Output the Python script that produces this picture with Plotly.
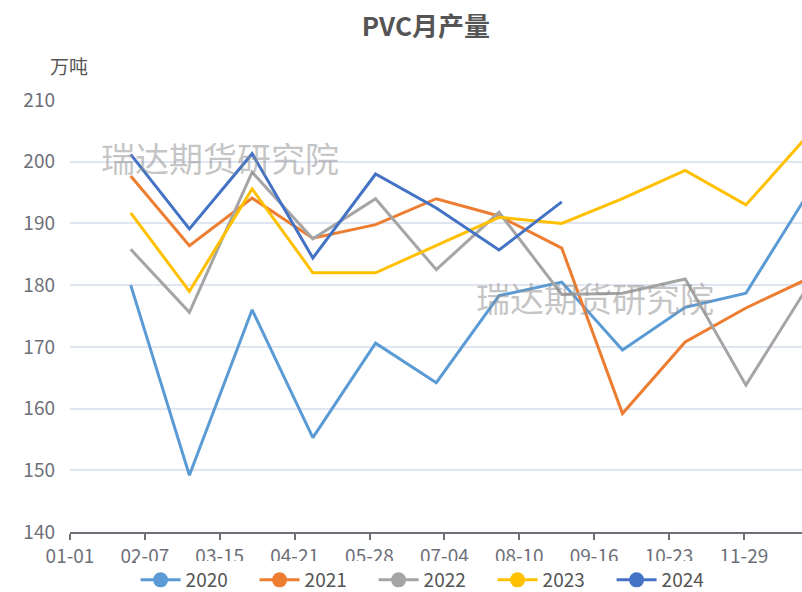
import plotly.graph_objects as go

months = ["2024-01-31", "2024-02-29", "2024-03-31", "2024-04-30", "2024-05-31", "2024-06-30",
          "2024-07-31", "2024-08-31", "2024-09-30", "2024-10-31", "2024-11-30", "2024-12-31"]

y2020 = [180.0, 149.2, 176.0, 155.3, 170.6, 164.2, 178.3, 180.5, 169.5, 176.4, 178.7, 195.0]
y2021 = [197.7, 186.4, 194.1, 187.6, 189.8, 194.0, 191.2, 186.0, 159.2, 170.8, 176.3, 181.1]
y2022 = [185.8, 175.6, 198.3, 187.5, 194.0, 182.5, 191.8, 178.5, 178.7, 181.0, 163.8, 180.0]
y2023 = [191.7, 179.0, 195.6, 182.0, 182.0, 186.4, 191.0, 190.0, 194.0, 198.6, 193.0, 204.4]
y2024 = [201.2, 189.1, 201.3, 184.4, 198.0, 192.5, 185.7, 193.5]

series_names = ["2020", "2021", "2022", "2023", "2024"]
series_values = [y2020, y2021, y2022, y2023, y2024]
colors = ["#5B9BD5", "#ED7D31", "#A5A5A5", "#FFC000", "#4472C4"]

FONT = "Noto Sans CJK SC"
fig = go.Figure()

for name, vals, c in zip(series_names, series_values, colors):
    fig.add_trace(go.Scatter(
        x=months[:len(vals)], y=vals, mode="lines", name=name,
        line=dict(color=c, width=3), showlegend=False,
    ))
# legend entries (line + circle symbol)
for name, c in zip(series_names, colors):
    fig.add_trace(go.Scatter(
        x=[None], y=[None], mode="lines+markers", name=name,
        line=dict(color=c, width=3), marker=dict(color=c, size=15),
    ))

wm_color = "rgba(140,140,140,0.5)"
fig.update_layout(
    width=802, height=592,
    margin=dict(l=70, r=0, t=100, b=60, autoexpand=False),
    paper_bgcolor="white", plot_bgcolor="white",
    font=dict(family=FONT, size=19, color="#6E7079"),
    title=dict(text="<b>PVC月产量</b>", x=0.531, xanchor="center", xref="container",
               y=0.954, yanchor="middle", yref="container",
               font=dict(family=FONT, size=26, color="#555555")),
    xaxis=dict(
        type="date", range=["2024-01-01", "2024-12-27 17:00"], automargin=False,
        tick0="2024-01-01", dtick=37 * 86400000, tickformat="%m-%d",
        showgrid=False, showline=True, linecolor="#6E7079", linewidth=1.5,
        ticks="outside", ticklen=6, tickcolor="#6E7079", tickwidth=1.5,
        tickfont=dict(size=19, color="#6E7079"), zeroline=False,
    ),
    yaxis=dict(
        range=[140, 210], dtick=10, showgrid=True, gridcolor="#E0E6F1", gridwidth=1.5,
        showline=False, zeroline=False, ticks="", ticklabelstandoff=14, automargin=False,
        tickfont=dict(size=19, color="#6E7079"),
    ),
    legend=dict(orientation="h", x=0.54, xanchor="center", xref="container",
                y=0.0203, yanchor="middle", yref="container",
                font=dict(size=19, color="#555555"), itemwidth=40, entrywidth=64,
                tracegroupgap=0),
    annotations=[
        dict(text="万吨", xref="paper", yref="paper", x=-0.001, y=1.081, xanchor="center",
             yanchor="middle", showarrow=False, font=dict(family=FONT, size=19, color="#555555")),
        dict(text="瑞达期货研究院", xref="paper", yref="paper", x=0.205, y=0.868, xanchor="center",
             yanchor="middle", showarrow=False, font=dict(family=FONT, size=34, color=wm_color)),
        dict(text="瑞达期货研究院", xref="paper", yref="paper", x=0.717, y=0.542, xanchor="center",
             yanchor="middle", showarrow=False, font=dict(family=FONT, size=34, color=wm_color)),
    ],
)

fig.write_html(
    "out.html",
    config={"displayModeBar": False},
    post_script="document.body.style.margin='0';document.body.style.overflow='hidden';",
)
